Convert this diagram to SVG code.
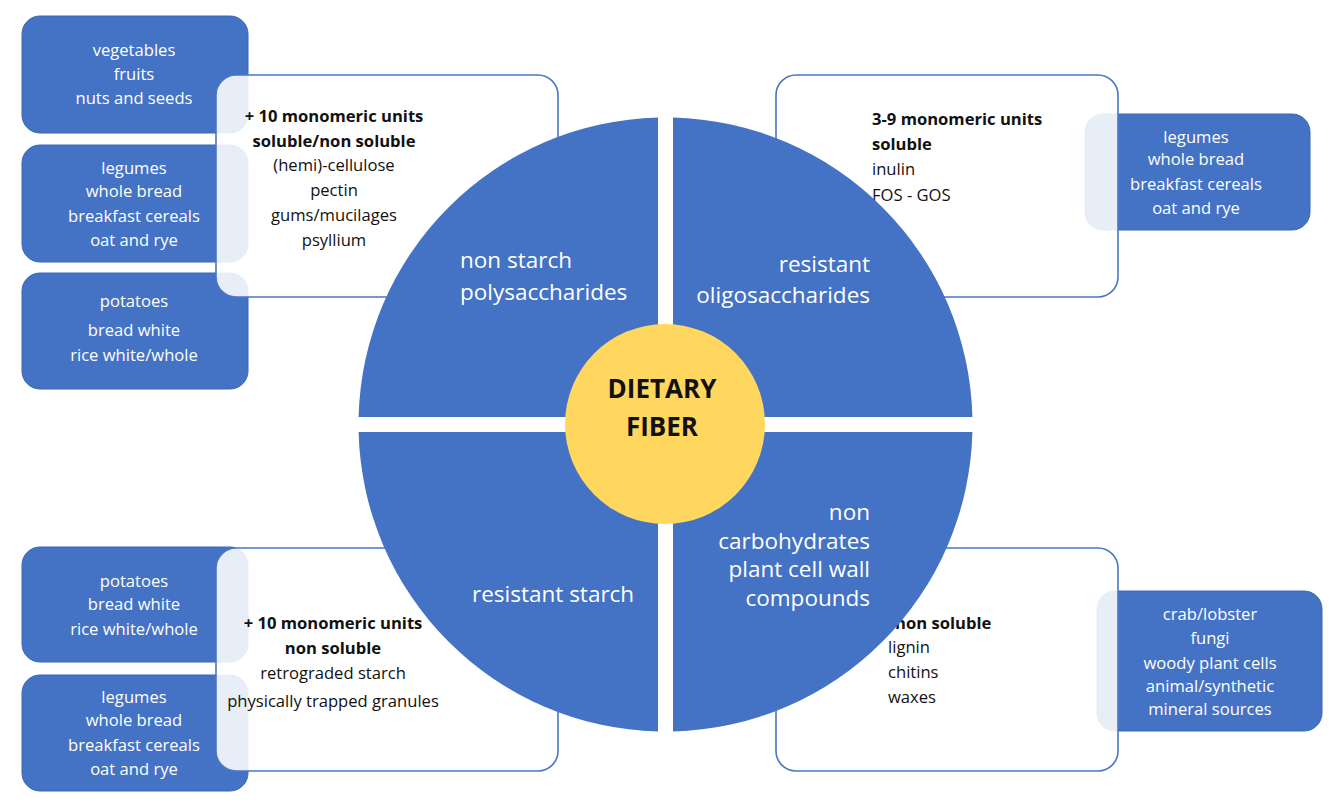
<svg xmlns="http://www.w3.org/2000/svg" width="1329" height="805" viewBox="0 0 1329 805">
<style>
.bb{fill:#4472C4;stroke:#3B66B6;stroke-width:1}
.wb{fill:#ffffff;fill-opacity:0.88;stroke:#4A76C6;stroke-width:1.6}
.q{fill:#4472C4}
.bt{font-family:"Open Sans",Lato,sans-serif;font-size:16.6px;fill:#ffffff;text-anchor:middle}
.wt{font-family:"Open Sans",Lato,sans-serif;font-size:16.6px;fill:#111111}
.c{text-anchor:middle}
.b{font-weight:bold}
.ql{font-family:"Open Sans",Lato,sans-serif;font-size:22.5px;fill:#ffffff}
.r{text-anchor:end}
.ct{font-family:"Open Sans",Lato,sans-serif;font-size:26px;font-weight:bold;fill:#111111;text-anchor:middle}
</style>
<rect width="1329" height="805" fill="#ffffff"/>
<g id="src-tl1"><rect class="bb" x="22" y="16" width="226" height="117" rx="18"/><text class="bt" x="134" y="56">vegetables</text><text class="bt" x="134" y="80">fruits</text><text class="bt" x="134" y="104">nuts and seeds</text></g>
<g id="src-tl2"><rect class="bb" x="22" y="145" width="226" height="117" rx="18"/><text class="bt" x="134" y="174">legumes</text><text class="bt" x="134" y="197">whole bread</text><text class="bt" x="134" y="222">breakfast cereals</text><text class="bt" x="134" y="246">oat and rye</text></g>
<g id="src-tl3"><rect class="bb" x="22" y="273" width="226" height="116" rx="18"/><text class="bt" x="134" y="307">potatoes</text><text class="bt" x="134" y="336">bread white</text><text class="bt" x="134" y="361">rice white/whole</text></g>
<g id="src-tr"><rect class="bb" x="1085" y="114" width="225" height="116" rx="18"/><text class="bt" x="1196" y="143">legumes</text><text class="bt" x="1196" y="165">whole bread</text><text class="bt" x="1196" y="190">breakfast cereals</text><text class="bt" x="1196" y="214">oat and rye</text></g>
<g id="src-bl1"><rect class="bb" x="22" y="547" width="226" height="115" rx="18"/><text class="bt" x="134" y="587">potatoes</text><text class="bt" x="134" y="610">bread white</text><text class="bt" x="134" y="635">rice white/whole</text></g>
<g id="src-bl2"><rect class="bb" x="22" y="675" width="226" height="116" rx="18"/><text class="bt" x="134" y="703">legumes</text><text class="bt" x="134" y="726">whole bread</text><text class="bt" x="134" y="751">breakfast cereals</text><text class="bt" x="134" y="775">oat and rye</text></g>
<g id="src-br"><rect class="bb" x="1097" y="591" width="225" height="140" rx="18"/><text class="bt" x="1210" y="620">crab/lobster</text><text class="bt" x="1210" y="644">fungi</text><text class="bt" x="1210" y="669">woody plant cells</text><text class="bt" x="1210" y="692">animal/synthetic</text><text class="bt" x="1210" y="715">mineral sources</text></g>

<g id="info-tl"><rect class="wb" x="216" y="75" width="342" height="222" rx="20"/>
<text class="wt c b" x="334" y="122">+ 10 monomeric units</text>
<text class="wt c b" x="334" y="147">soluble/non soluble</text>
<text class="wt c" x="334" y="171">(hemi)-cellulose</text>
<text class="wt c" x="334" y="196">pectin</text>
<text class="wt c" x="334" y="221">gums/mucilages</text>
<text class="wt c" x="334" y="246">psyllium</text></g>
<g id="info-tr"><rect class="wb" x="776" y="75" width="342" height="222" rx="20"/>
<text class="wt b" x="872" y="125">3-9 monomeric units</text>
<text class="wt b" x="872" y="150">soluble</text>
<text class="wt" x="872" y="175">inulin</text>
<text class="wt" x="872" y="201">FOS - GOS</text></g>
<g id="info-bl"><rect class="wb" x="216" y="548" width="342" height="223" rx="20"/>
<text class="wt c b" x="333" y="629">+ 10 monomeric units</text>
<text class="wt c b" x="333" y="654">non soluble</text>
<text class="wt c" x="333" y="679">retrograded starch</text>
<text class="wt c" x="333" y="707">physically trapped granules</text></g>
<g id="info-br"><rect class="wb" x="776" y="548" width="342" height="223" rx="20"/>
<text class="wt b" x="895" y="629">non soluble</text>
<text class="wt" x="888" y="653">lignin</text>
<text class="wt" x="888" y="678">chitins</text>
<text class="wt" x="888" y="703">waxes</text></g>

<g id="q-nsp"><path class="q" d="M658,417 L658,117.6 A307,307 0 0 0 358.6,417 Z"/><text class="ql" x="460" y="268">non starch</text><text class="ql" x="460" y="300">polysaccharides</text></g>
<g id="q-ro"><path class="q" d="M673,417 L673,117.6 A307,307 0 0 1 972.4,417 Z"/><text class="ql r" x="870" y="272">resistant</text><text class="ql r" x="870" y="303">oligosaccharides</text></g>
<g id="q-rs"><path class="q" d="M658,432 L358.6,432 A307,307 0 0 0 658,731.4 Z"/><text class="ql" x="472" y="602">resistant starch</text></g>
<g id="q-nc"><path class="q" d="M673,432 L972.4,432 A307,307 0 0 1 673,731.4 Z"/><text class="ql r" x="870" y="520">non</text><text class="ql r" x="870" y="549">carbohydrates</text><text class="ql r" x="870" y="577">plant cell wall</text><text class="ql r" x="870" y="606">compounds</text></g>

<g id="center"><circle cx="665" cy="424" r="100" fill="#FFD65E"/><text class="ct" x="662" y="398">DIETARY</text><text class="ct" x="662" y="436">FIBER</text></g>
<g id="connectors"></g>
</svg>
